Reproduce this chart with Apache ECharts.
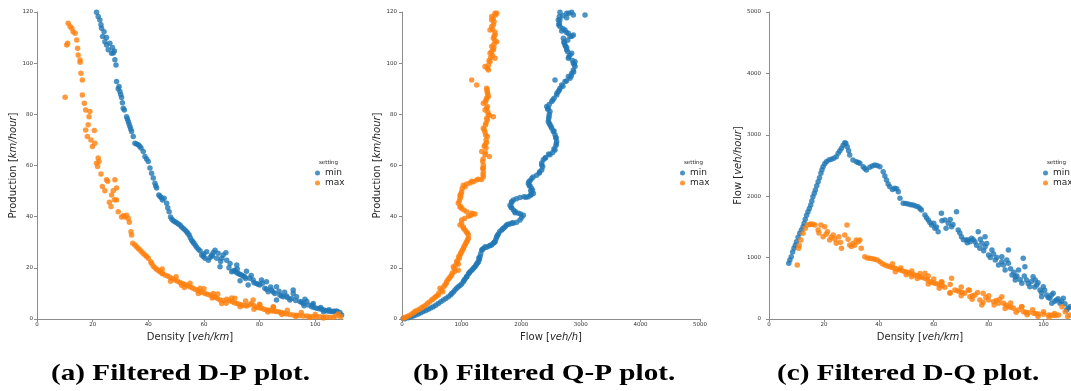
<!DOCTYPE html>
<html>
<head>
<meta charset="utf-8">
<script src="https://cdn.jsdelivr.net/npm/echarts@6/dist/echarts.min.js"></script>
<style>
  html, body { margin: 0; padding: 0; background: #ffffff; }
  #chart { width: 1071px; height: 391px; }
</style>
</head>
<body>
<div id="chart"></div>
<script>
// (a) density [veh/km] vs production [km/hour]
const dpMin = [
  [21.4,119.9],[22.0,118.2],[22.6,116.9],[23.2,113.6],[24.1,112.3],[23.6,110.4],[24.4,108.4],[25.0,107.1],
  [26.2,107.8],[25.6,105.2],[27.1,106.1],[27.8,104.8],[26.8,103.9],[28.0,101.3],[28.4,99.3],[28.6,92.8],
  [29.5,90.9],[29.8,88.9],[30.4,86.6],[31.0,82.4],[31.4,81.7],[32.2,79.1],[32.8,77.2],[33.4,75.2],
  [34.0,73.3],[34.6,71.3],[35.2,68.7],[36.4,68.1],[37.4,66.8],[38.2,65.5],[38.8,63.5],[40.0,61.6],
  [40.6,59.0],[41.2,57.0],[41.8,55.1],[42.4,53.1],[43.0,51.2],[43.8,48.5],[44.6,47.5],[45.7,47.2],
  [46.6,45.2],[47.5,41.9],[48.0,39.9],[49.0,38.4],[50.2,37.6],[51.4,36.7],[52.6,35.4],[53.8,34.1],
  [54.7,32.8],[55.6,30.8],[56.4,29.6],[57.4,28.0],[58.6,26.7],[59.2,25.0],[60.4,23.7],[61.6,23.0],
  [62.8,25.0],[64.0,26.9],[65.1,25.7],[65.8,20.4],[66.4,23.7],[67.9,25.9],[68.2,23.0],[69.4,21.7],
  [70.0,18.5],[71.1,19.1],[72.3,17.8],[73.5,17.2],[74.7,16.5],[75.3,18.7],[75.9,13.3],[76.5,15.9],
  [77.7,15.2],[78.9,13.9],[80.1,13.3],[80.7,15.2],[81.9,12.0],[83.1,10.7],[84.3,11.3],[85.5,10.0],
  [86.1,12.6],[87.3,9.4],[88.5,8.7],[89.7,9.0],[90.9,7.4],[92.1,11.3],[93.3,8.7],[94.5,6.8],
  [95.7,6.1],[96.3,7.7],[97.5,5.5],[98.7,4.8],[100.5,4.2],[102.3,3.8],[104.1,3.2],[105.9,2.9],
  [107.7,3.1],[108.9,2.5],[61.0,26.3],[64.6,23.7],[66.9,25.0],[71.8,21.1],[82.5,14.6],[92.1,10.0],
  [86.1,7.4],[99.3,6.1],[109.5,1.6],[106.5,2.9],
  [42.7,52.0],[44.2,48.0],[45.1,46.5],[47.0,43.5],[48.5,39.0],[49.6,38.0],[50.8,37.1],[52.0,36.0],
  [53.2,34.8],[54.2,33.5],[55.1,31.8],[56.0,30.2],[56.9,28.8],[58.0,27.3],[59.8,24.4],[62.2,24.0],
  [63.4,26.0],[70.6,18.8],[71.7,18.2],[72.9,17.5],[74.1,16.8],[79.5,13.6],[82.5,11.6],[84.9,10.6],
  [87.9,9.0],[91.5,8.0],[95.1,6.5],[99.6,4.5],[101.4,4.0],[103.2,3.5],[105.0,3.0],[106.8,3.0],
  [29.2,90.0],[30.1,87.8],[30.7,84.5],[32.5,78.2],[33.1,76.2],[33.7,74.3],[35.8,68.4],[36.9,67.5],
  [39.4,62.5],[23.0,115.0],[25.0,110.0],[27.4,104.0],
  [60.0,25.5],[63.0,24.5],[66.0,22.5],[69.0,20.0],[72.0,19.5],[75.0,15.8],[78.0,14.2],[81.0,14.0],
  [84.0,12.5],[87.0,10.8],[90.0,8.4],[93.0,7.2],[96.0,5.2],[99.0,5.5],[102.0,4.5],[105.0,3.6],
  [108.0,2.8],[73.0,15.0],[77.0,17.0],[89.0,10.5],[97.0,6.8],[103.0,2.8]
];
const dpMax = [
  [11.2,115.6],[11.9,114.3],[12.5,113.6],[13.0,112.3],[13.7,111.7],[14.3,109.1],[10.7,107.1],[11.0,107.8],
  [14.6,105.8],[14.8,103.2],[15.5,101.2],[15.5,100.4],[15.8,96.1],[16.3,93.4],[10.1,86.7],[16.3,87.6],
  [17.0,84.3],[17.5,81.7],[19.0,81.1],[18.7,79.1],[18.4,75.9],[17.5,73.9],[20.6,73.7],[18.1,71.3],
  [19.4,70.0],[20.8,68.7],[19.9,67.4],[22.0,62.9],[21.4,60.9],[22.3,61.6],[21.8,59.6],[23.0,56.7],
  [25.0,54.4],[25.4,53.8],[28.0,54.4],[23.5,51.8],[24.4,50.1],[27.4,50.1],[26.8,48.5],[28.6,51.2],
  [27.8,46.6],[26.0,45.6],[26.6,44.0],[28.6,46.5],[29.2,41.9],[30.4,39.9],[31.6,39.9],[32.8,39.3],
  [33.2,37.8],[33.8,34.1],[34.0,32.8],[34.4,29.6],[35.2,28.9],[36.4,27.6],[37.6,26.3],[38.8,25.0],
  [40.0,23.7],[40.9,22.4],[41.8,20.7],[43.0,19.4],[44.2,18.5],[46.0,17.2],[47.8,16.3],[49.6,15.2],
  [51.4,14.3],[53.2,13.5],[55.0,12.6],[56.8,11.6],[58.6,10.7],[60.4,10.0],[62.2,9.4],[64.0,8.5],
  [65.8,7.4],[66.4,6.1],[68.2,7.7],[70.0,6.8],[71.8,6.1],[73.6,5.5],[75.4,5.1],[77.1,6.1],
  [78.9,4.6],[80.7,4.2],[82.5,3.5],[84.3,3.2],[86.1,2.9],[87.9,2.5],[89.7,2.0],[92.1,1.6],
  [94.5,1.3],[96.9,1.2],[99.3,0.9],[101.7,0.9],[104.1,0.8],[106.5,0.7],[108.3,2.0],[109.1,0.9],
  [77.7,7.4],[71.1,8.1],[63.4,10.0],[58.6,12.0],[80.1,5.5],[84.9,4.8],[45.0,18.0],[52.0,13.2],
  [31.0,40.4],[32.2,40.6],
  [35.8,28.2],[37.0,27.0],[38.2,25.6],[39.4,24.4],[41.2,21.7],[42.4,20.0],[43.6,19.0],[45.0,17.8],
  [46.9,16.8],[48.7,15.7],[50.5,14.8],[52.3,13.9],[54.1,13.0],[55.9,12.1],[57.7,11.2],[59.5,10.4],
  [61.3,9.7],[63.1,9.0],[64.9,8.0],[66.9,7.2],[69.1,7.2],[70.9,6.4],[72.7,5.8],[74.5,5.3],
  [76.3,5.6],[78.0,5.2],[79.8,4.4],[81.6,3.8],[83.4,3.4],[85.2,3.0],[87.0,2.7],[88.8,2.2],
  [90.9,1.8],[93.3,1.5],[95.7,1.2],[98.1,1.0],[100.5,0.9],[102.9,0.8],[105.3,0.7],[107.4,1.2],
  [45.0,19.5],[50.0,16.5],[55.0,14.0],[60.0,11.8],[65.0,9.8],[70.0,8.2],[75.0,7.0],[80.0,5.8],
  [85.0,4.6],[90.0,3.4],[95.0,2.5],[100.0,1.8],[48.0,14.8],[53.0,12.3],[58.0,10.0],[63.0,8.2],
  [68.0,6.2],[73.0,4.8],[78.0,3.8],[83.0,2.7],[88.0,1.8],[93.0,1.0],[98.0,0.6],[103.0,0.4]
];

// (b) flow [veh/h] vs production [km/hour]
const qpMin = [
  [2651,119.9],[2763,119.5],[2875,118.8],[3071,118.8],[2623,116.9],[2651,114.3],[2735,113.0],[2791,111.7],
  [2875,111.0],[2707,109.7],[2735,107.1],[2763,105.2],[2847,103.9],[2791,101.9],[2875,100.0],[2903,98.7],
  [2847,96.1],[2791,94.8],[2735,92.8],[2567,93.4],[2651,90.2],[2595,87.6],[2512,85.0],[2428,83.1],
  [2483,81.1],[2455,77.2],[2512,74.6],[2567,72.0],[2595,69.4],[2567,66.1],[2483,64.2],[2371,62.2],
  [2344,60.2],[2344,58.2],[2260,56.2],[2176,54.9],[2120,53.0],[2176,51.0],[2204,49.1],[2120,47.8],
  [1980,47.5],[1868,46.5],[1812,44.5],[1868,42.6],[1952,41.3],[2036,40.6],[1980,38.7],[1868,37.4],
  [1756,36.7],[1673,34.8],[1589,32.1],[1561,30.2],[1505,28.9],[1421,28.0],[1337,26.9],[1309,24.3],
  [1281,22.4],[1225,20.4],[1141,18.5],[1086,16.5],[1029,14.6],[945,12.6],[834,10.0],[693,7.4],
  [525,4.8],[357,2.9],[190,1.2],[50,0.1],
  [106,0.5],[274,2.0],[441,3.8],[609,6.1],[777,8.7],[889,11.3],[1001,13.7],[1057,15.6],
  [1113,17.6],[1186,19.4],[1253,21.5],[1298,23.3],[1365,27.6],[1465,28.5],[1533,29.6],[1617,33.2],
  [1712,35.7],[1812,37.1],[1924,37.8],[2008,39.7],[1896,41.5],[1840,43.5],[1840,45.8],[2047,47.8],
  [2159,48.4],[2159,50.1],[2137,52.1],[2148,54.0],[2304,57.1],[2360,59.5],[2411,63.1],[2528,65.1],
  [2584,67.8],[2584,70.7],[2539,73.3],[2483,75.9],[2467,79.1],[2455,82.4],[2551,86.3],[2623,88.9],
  [2679,91.5],[2819,94.1],[2875,97.3],[2903,100.6],[2819,103.2],[2763,106.1],[2718,108.4],[2819,110.4],
  [2679,112.6],[2640,115.6],[2640,118.2],[2763,117.8],[2847,119.9],
  [20,0.2],[150,0.9],[230,1.6],[315,2.4],[400,3.3],[483,4.3],[567,5.4],[651,6.7],
  [735,8.0],[815,9.4],[862,10.6],[917,12.0],[973,13.1],[1043,15.1],[1085,16.5],[1127,18.0],
  [1165,19.0],[1205,20.0],[1240,21.0],[1270,22.0],[1290,23.8],[1320,25.5],[1350,27.2],[1395,28.2],
  [1480,28.8],[1550,30.0],[1575,31.2],[1600,32.6],[1640,34.2],[1690,35.3],[1735,36.2],[1780,37.0],
  [1850,37.6],[2345,61.0],[2400,62.8],[2460,64.5],[2550,66.5],[2590,68.5],[2580,71.0],[2550,73.5],
  [2500,75.2],[2470,76.5],[2460,78.3],[2470,80.0],[2445,82.0],[2470,83.8],[2530,85.6],[2600,88.2],
  [2640,89.5],[2700,91.0],[2760,93.0],[2840,95.0],[2880,96.5],[2890,99.5],[2860,101.0],[2800,102.5],
  [2780,104.5],[2745,106.5],[2720,108.0],[2780,109.0],[2850,110.5],[2760,112.0],[2700,113.5],[2630,115.0],
  [2650,117.0],[2700,118.5],[2800,119.5],[2310,57.6],[2200,55.5],[2130,53.6],[2150,52.0],[2190,50.2],
  [2165,48.7],[2080,47.6],[1920,47.0],[1840,45.5],[1830,43.7],[1900,42.0],[1990,41.0]
];
const qpMax = [
  [1561,119.5],[1505,118.2],[1544,116.2],[1477,113.0],[1561,111.0],[1589,108.4],[1505,106.5],[1477,103.9],
  [1561,101.9],[1477,100.6],[1393,98.7],[1449,97.3],[1169,93.4],[1253,91.5],[1421,90.2],[1449,87.0],
  [1365,84.3],[1393,81.7],[1533,79.1],[1421,78.5],[1365,74.6],[1432,71.3],[1393,68.1],[1337,65.5],
  [1465,63.5],[1354,61.6],[1354,58.8],[1365,55.6],[1253,54.3],[1141,53.2],[1029,52.3],[1001,49.7],
  [973,47.1],[945,45.2],[1001,43.2],[1086,41.9],[1225,41.0],[1113,40.2],[1001,38.7],[973,36.7],
  [1057,34.8],[1113,32.8],[1086,30.2],[1029,27.6],[973,25.0],[918,22.4],[861,20.4],[945,19.1],
  [834,17.2],[750,14.6],[638,12.0],[609,9.4],[498,7.4],[357,4.8],[218,2.9],[79,0.9],
  [22,0.3],[163,2.0],[290,3.8],[425,6.1],[554,8.5],[683,10.7],[722,13.3],[794,15.9],
  [889,18.7],[945,21.5],[962,23.7],[1001,26.3],[1057,28.9],[1113,31.5],[1029,36.0],[1169,41.3],
  [973,43.8],[973,48.4],[1057,51.7],[1197,53.6],[1337,54.5],[1365,57.5],[1365,60.1],[1393,64.2],
  [1410,66.8],[1410,70.0],[1393,73.0],[1410,76.5],[1449,80.0],[1432,83.1],[1410,85.6],[1432,88.6],
  [1432,98.0],[1488,102.2],[1533,105.2],[1544,107.4],[1533,109.7],[1561,112.1],[1505,114.3],[1505,116.9],
  [1589,119.5],
  [50,0.6],[120,1.4],[200,2.5],[250,3.3],[330,4.4],[390,5.3],[460,6.6],[520,7.8],
  [580,9.0],[620,10.2],[660,11.3],[700,12.6],[740,13.9],[770,15.3],[810,16.5],[845,18.0],
  [875,19.6],[900,21.0],[930,22.8],[950,24.3],[985,25.7],[1015,27.0],[1040,28.2],[1070,29.6],
  [1100,31.0],[1100,33.5],[1080,34.0],[1030,35.5],[1000,37.4],[1050,39.3],[1150,40.5],[1190,41.0],
  [1040,42.6],[985,44.0],[960,46.0],[985,47.8],[990,49.0],[1010,51.0],[1085,52.8],[1170,53.8],
  [1280,54.6],[1360,56.5],[1365,59.0],[1360,62.5],[1400,65.0],[1380,67.5],[1420,69.0],[1405,71.8],
  [1380,74.0],[1400,75.8],[1430,77.8],[1470,79.5],[1440,81.0],[1420,82.5],[1400,84.8],[1420,86.3],
  [1440,87.8],[1425,89.5],[1450,99.2],[1460,101.0],[1520,103.0],[1500,104.5],[1540,106.0],[1560,108.8],
  [1545,110.5],[1520,113.2],[1535,115.0],[1530,117.5],[1570,118.8]
];

// (c) density [veh/km] vs flow [veh/hour]
const dqMin = [
  [7.2,907],[8.1,1015],[9.1,1151],[10.0,1259],[11.2,1396],[12.4,1504],[13.2,1624],[14.2,1748],
  [15.2,1857],[16.0,1992],[16.9,2101],[17.9,2237],[18.9,2373],[19.7,2481],[20.9,2562],[22.7,2602],
  [24.5,2644],[25.2,2699],[26.4,2781],[27.6,2872],[28.5,2807],[29.4,2672],[30.6,2590],[31.8,2562],
  [33.1,2536],[34.3,2481],[35.5,2427],[36.7,2471],[38.5,2509],[40.4,2481],[41.6,2400],[42.8,2264],
  [44.0,2155],[45.8,2129],[47.1,2074],[47.7,1966],[48.9,1885],[50.7,1873],[52.5,1857],[54.3,1829],
  [55.5,1776],[56.8,1694],[58.0,1613],[59.2,1531],[60.4,1477],[61.6,1422],[62.8,1722],[64.1,1613],
  [65.3,1559],[66.5,1504],[68.3,1748],[68.9,1450],[70.1,1341],[71.9,1287],[73.8,1315],[75.0,1259],
  [76.2,1422],[76.8,1151],[78.7,1178],[80.0,1043],[81.2,1124],[82.4,961],[83.6,880],[84.8,1015],
  [86.0,798],[87.2,1124],[88.5,717],[89.7,689],[90.9,798],[92.1,582],[92.6,989],[93.8,635],
  [95.0,526],[96.2,689],[97.5,554],[98.7,472],[99.9,526],[101.1,391],[102.3,337],[103.5,419],
  [104.7,310],[106.0,256],[107.2,337],[108.4,147],[109.6,200],
  [72.6,1287],[73.2,1259],[77.5,1233],[78.7,1341],[84.8,933],[87.2,907],[89.7,635],[93.2,852],
  [97.0,635],[99.3,363],[103.0,256],
  [7.6,960],[8.6,1090],[9.6,1200],[10.6,1330],[11.8,1450],[12.8,1560],[13.7,1690],[14.7,1800],
  [15.6,1920],[16.5,2050],[17.4,2170],[18.4,2300],[19.3,2430],[20.3,2530],[21.8,2590],[23.6,2620],
  [25.8,2740],[27.0,2830],[28.0,2860],[29.0,2740],[32.5,2550],[34.9,2450],[37.6,2490],[39.4,2500],
  [42.2,2330],[43.4,2200],[45.0,2110],[46.5,2120],[49.8,1880],[51.6,1860],[53.4,1840],[55.0,1800],
  [57.4,1650],[58.6,1570],
  [60.0,1560],[61.0,1500],[63.0,1600],[64.5,1480],[66.0,1620],[67.0,1540],[69.5,1400],[70.8,1290],
  [72.2,1240],[74.4,1290],[75.6,1200],[77.0,1300],[78.2,1110],[79.3,1230],[80.6,1000],[81.8,1060],
  [83.0,1000],[85.4,880],[86.6,960],[88.0,820],[89.2,760],[90.3,700],[91.5,640],[93.0,700],
  [94.4,580],[95.6,610],[96.8,520],[98.0,590],[99.2,430],[100.4,470],[101.7,350],[102.9,390],
  [104.1,290],[105.3,330],[106.5,290],[107.8,250],[109.0,180]
];
const dqMax = [
  [10.3,880],[10.8,1151],[11.6,1287],[12.4,1396],[13.2,1477],[14.0,1531],[15.2,1548],[16.7,1531],
  [17.9,1450],[18.9,1531],[19.7,1341],[20.3,1504],[21.3,1422],[22.1,1287],[23.4,1368],[24.5,1233],
  [25.4,1341],[26.4,1151],[27.6,1368],[28.4,1531],[29.4,1205],[30.6,1233],[31.8,1287],[33.1,1287],
  [33.6,1151],[34.9,1015],[36.7,989],[38.5,973],[40.4,933],[42.2,880],[44.0,852],[45.8,826],
  [47.7,798],[49.5,771],[51.3,744],[53.1,717],[54.9,689],[56.8,663],[58.6,608],[60.4,582],
  [62.2,554],[64.0,516],[66.5,663],[65.9,419],[67.7,472],[69.5,445],[71.3,419],[73.2,363],
  [75.0,391],[76.8,310],[78.0,419],[80.0,310],[81.8,282],[83.6,256],[85.4,256],[87.2,200],
  [89.1,174],[90.9,147],[92.7,119],[94.5,103],[96.4,93],[98.2,81],[100.0,77],[101.8,65],
  [103.6,60],[105.5,65],[106.7,200],[107.9,119],[109.6,65],
  [72.6,472],[77.5,228],[84.8,363],[92.1,200],[62.8,608],[56.8,744],[51.9,689],
  [11.0,1200],[14.8,1540],[16.0,1545],[18.2,1400],[20.8,1380],[22.7,1330],[24.0,1300],[26.0,1250],
  [28.8,1300],[30.0,1180],[31.2,1200],[32.5,1260],[35.8,995],[37.6,980],[39.4,960],[41.3,900],
  [43.1,865],[44.9,840],[46.7,810],[48.6,785],[50.4,760],[52.2,730],[54.0,705],[55.8,675],
  [57.7,640],[59.5,595],[61.3,570],[63.1,540],[68.6,460],[70.4,430],[74.1,380],[79.0,350],
  [82.7,300],[86.3,230],[88.1,190],[93.6,110],[97.3,85],[102.7,62],[104.5,58],[108.8,40],
  [45.0,900],[48.0,830],[52.0,780],[55.0,740],[58.0,700],[60.0,650],[63.0,600],[66.0,560],
  [70.0,520],[73.0,470],[76.0,430],[80.0,380],[84.0,320],[88.0,260],[92.0,200],[96.0,150],
  [100.0,120],[104.0,90],[46.0,770],[50.0,720],[54.0,660],[58.0,570],[62.0,500],[66.0,430],
  [70.0,380],[74.0,320],[78.0,270],[82.0,230],[86.0,170],[90.0,110],[94.0,70],[98.0,40],
  [102.0,30]
];

const densityTicks = [0, 20, 40, 60, 80, 100];
const settings = ['min', 'max'];
const captions = ['(a) Filtered D-P plot.', '(b) Filtered Q-P plot.', '(c) Filtered D-Q plot.'];

const FONT = '"DejaVu Sans", sans-serif';
const AXIS_COLOR = '#8c8c8c';
const COLORS = { min: '#1f77b4', max: '#ff7f0e' };

const chart = echarts.init(document.getElementById('chart'), null, { renderer: 'canvas' });

function valueAxis(opts) {
  return {
    type: 'value',
    gridIndex: opts.grid,
    min: opts.min,
    max: opts.max,
    interval: opts.interval,
    name: opts.name,
    nameLocation: 'middle',
    nameGap: opts.nameGap,
    nameTextStyle: {
      fontFamily: FONT, fontSize: 10, color: '#262626',
      rich: { i: { fontFamily: FONT, fontSize: 10, fontStyle: 'italic', color: '#262626' } }
    },
    axisLine: { show: true, onZero: false, lineStyle: { color: AXIS_COLOR, width: 1 } },
    axisTick: { show: true, length: 3, lineStyle: { color: AXIS_COLOR }, customValues: opts.ticks },
    axisLabel: {
      fontFamily: FONT, fontSize: 5.5, color: '#333333', margin: opts.labelMargin,
      customValues: opts.ticks,
      formatter: function (v) { return String(v); }
    },
    splitLine: { show: false }
  };
}

function scatter(name, data, idx) {
  return {
    type: 'scatter',
    name: name,
    data: data,
    xAxisIndex: idx,
    yAxisIndex: idx,
    symbol: 'circle',
    symbolSize: 5.5,
    itemStyle: { color: COLORS[name], opacity: 0.8 },
    emphasis: { disabled: true },
    silent: true
  };
}

const grids = [
  { left: 37, top: 12, width: 306, height: 307 },
  { left: 402, top: 12, width: 298, height: 307 },
  { left: 769, top: 12, width: 302, height: 307 }
];
const legendLefts = [315, 680, 1043];
const captionLefts = [51, 413, 777];

const option = {
  animation: false,
  backgroundColor: '#ffffff',
  grid: grids,
  xAxis: [
    valueAxis({ grid: 0, min: 0, max: 110, interval: 20, ticks: densityTicks,
      name: 'Density [{i|veh/km}]', nameGap: 8, labelMargin: 3 }),
    valueAxis({ grid: 1, min: 0, max: 5000, interval: 1000,
      name: 'Flow [{i|veh/h}]', nameGap: 8, labelMargin: 3 }),
    valueAxis({ grid: 2, min: 0, max: 110, interval: 20, ticks: densityTicks,
      name: 'Density [{i|veh/km}]', nameGap: 8, labelMargin: 3 })
  ],
  yAxis: [
    valueAxis({ grid: 0, min: 0, max: 120, interval: 20,
      name: 'Production [{i|km/hour}]', nameGap: 14, labelMargin: 4 }),
    valueAxis({ grid: 1, min: 0, max: 120, interval: 20,
      name: 'Production [{i|km/hour}]', nameGap: 12, labelMargin: 5 }),
    valueAxis({ grid: 2, min: 0, max: 5000, interval: 1000,
      name: 'Flow [{i|veh/hour}]', nameGap: 11, labelMargin: 8 })
  ],
  legend: legendLefts.map(function (l) {
    return {
      data: settings,
      orient: 'vertical',
      left: l,
      top: 168,
      padding: 0,
      itemGap: 0,
      itemWidth: 5,
      itemHeight: 5,
      icon: 'circle',
      selectedMode: false,
      textStyle: { fontFamily: FONT, fontSize: 9, color: '#262626', lineHeight: 10 }
    };
  }),
  series: [
    scatter('min', dpMin, 0), scatter('max', dpMax, 0),
    scatter('min', qpMin, 1), scatter('max', qpMax, 1),
    scatter('min', dqMin, 2), scatter('max', dqMax, 2)
  ],
  graphic: legendLefts.map(function (l) {
    return {
      type: 'text', left: l + 4, top: 160,
      style: { text: 'setting', font: '5.5px ' + FONT, fill: '#262626' }
    };
  }).concat(captions.map(function (c, i) {
    return {
      type: 'text', x: captionLefts[i], y: 374, scaleX: 1.27, originX: 0, originY: 0,
      style: { text: c, font: 'bold 23px "Liberation Serif", serif', fill: '#000000',
        textAlign: 'left', verticalAlign: 'middle' }
    };
  }))
};

chart.setOption(option);
</script>
</body>
</html>
